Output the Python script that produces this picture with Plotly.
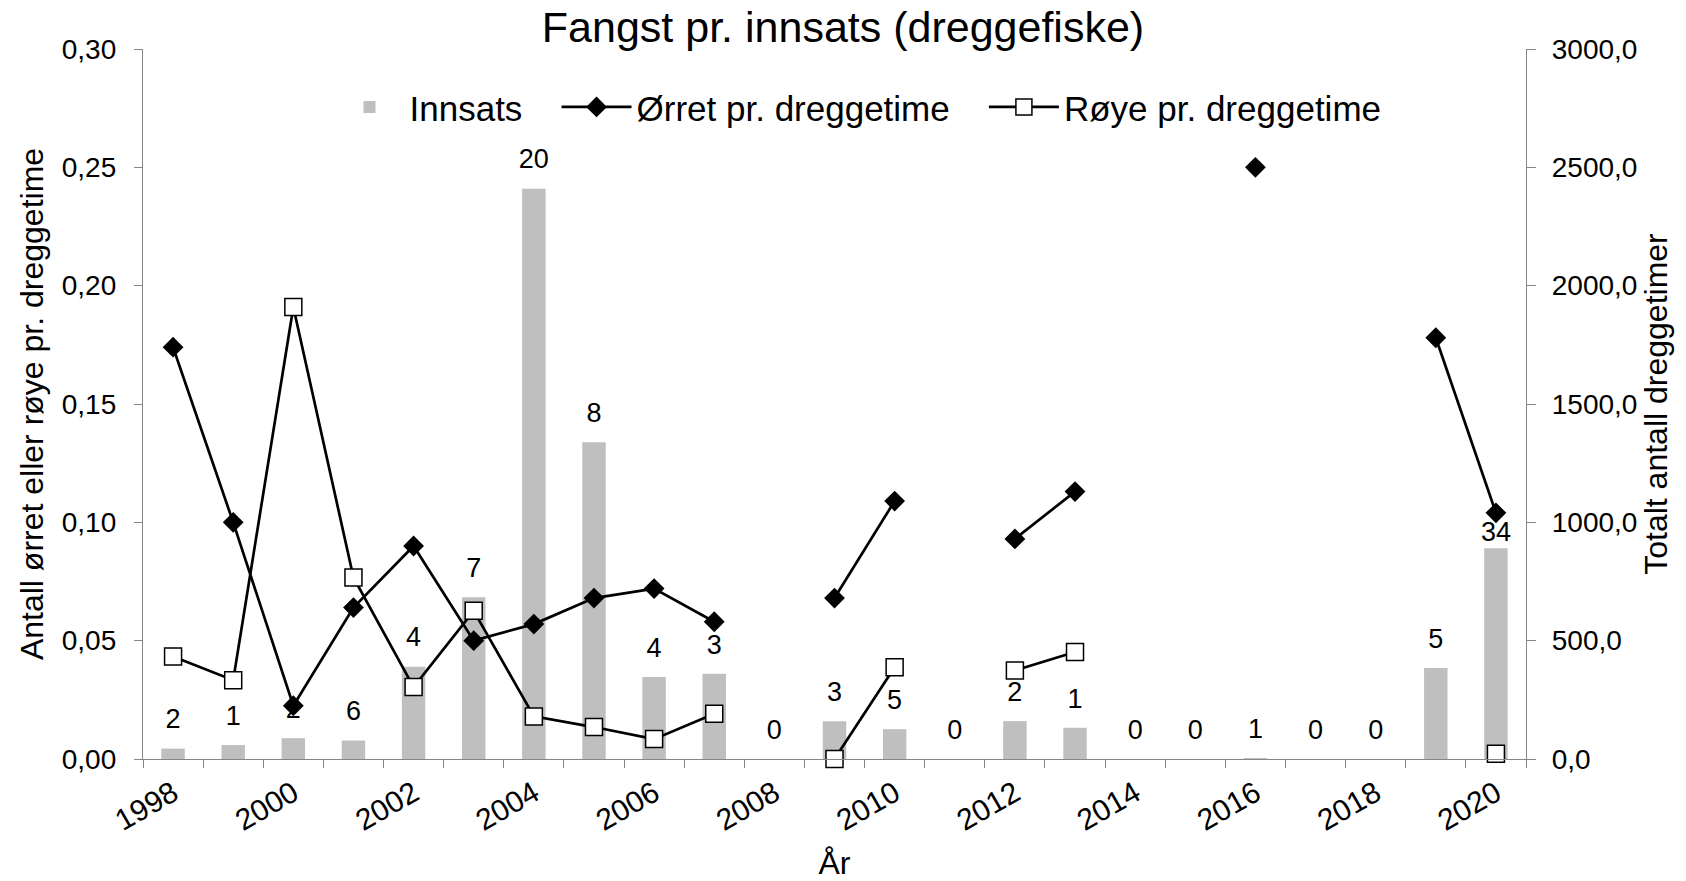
import plotly.graph_objects as go

# ---- data ----
years = ["1998", "1999", "2000", "2001", "2002", "2003", "2004", "2005", "2006", "2007",
         "2008", "2009", "2010", "2011", "2012", "2013", "2014", "2015", "2016", "2017",
         "2018", "2019", "2020"]
x_tick_labels = ["1998", "", "2000", "", "2002", "", "2004", "", "2006", "", "2008", "",
                 "2010", "", "2012", "", "2014", "", "2016", "", "2018", "", "2020"]
innsats = [44, 59, 88, 78, 390, 683, 2410, 1338, 346, 360, 0, 160, 126, 0, 160, 132,
           0, 0, 4, 0, 0, 384, 891]
bar_labels = [2, 1, 2, 6, 4, 7, 20, 8, 4, 3, 0, 3, 5, 0, 2, 1, 0, 0, 1, 0, 0, 5, 34]
orret = [0.174, 0.100, 0.0225, 0.064, 0.090, 0.050, 0.057, 0.068, 0.072, 0.058, None,
         0.068, 0.109, None, 0.093, 0.113, None, None, 0.250, None, None, 0.178, 0.104]
roye = [0.0433, 0.0333, 0.191, 0.0767, 0.0304, 0.0626, 0.018, 0.0135, 0.0084, 0.0191, None,
        0.0, 0.0388, None, 0.0374, 0.0452, None, None, None, None, None, None, 0.0022]

FONT = "Liberation Sans, Arial, sans-serif"
AXIS_COLOR = "#868686"
NB = "\u00a0"

fig = go.Figure()

fig.add_trace(go.Bar(
    x=years, y=innsats, name="Innsats" + NB * 3, yaxis="y",
    marker=dict(color="#bfbfbf", line=dict(width=0)), width=0.39,
))

label_sizes = [0 if y == "2020" else 20 for y in years]
fig.add_trace(go.Scatter(
    x=years, y=innsats, yaxis="y", mode="markers+text",
    text=[str(v) for v in bar_labels], textposition="top center",
    textfont=dict(family=FONT, size=27, color="black"),
    marker=dict(size=label_sizes, color="rgba(0,0,0,0)", opacity=0, line=dict(width=0)),
    showlegend=False, hoverinfo="skip", cliponaxis=False,
))

fig.add_trace(go.Scatter(
    x=years, y=orret, yaxis="y2", mode="lines+markers", name="Ørret pr. dreggetime" + NB * 3,
    line=dict(color="black", width=2.7),
    marker=dict(symbol="diamond", size=16, color="black"),
    connectgaps=False, cliponaxis=False,
))

fig.add_trace(go.Scatter(
    x=years, y=roye, yaxis="y2", mode="lines+markers", name="Røye pr. dreggetime",
    line=dict(color="black", width=2.7),
    marker=dict(symbol="square", size=17, color="white", line=dict(color="black", width=1.5)),
    connectgaps=False, cliponaxis=False,
))

fig.update_layout(
    width=1686, height=881,
    margin=dict(l=143, r=160, t=49, b=122, pad=0),
    paper_bgcolor="white", plot_bgcolor="white",
    font=dict(family=FONT, color="black", size=28),
    separators=",.",
    title=dict(text="Fangst pr. innsats (dreggefiske)", x=0.5, xref="container",
               y=1 - 27 / 881, yref="container", yanchor="middle", xanchor="center",
               font=dict(size=43, family=FONT, color="black")),
    legend=dict(orientation="h", x=0.517, xanchor="center", y=0.918, yanchor="middle",
                font=dict(size=35, family=FONT, color="black"),
                bgcolor="rgba(0,0,0,0)", itemwidth=70),
    xaxis=dict(
        type="category", range=[-0.5, 22.5], tickmode="array", tickvals=years,
        ticktext=x_tick_labels, automargin=False,
        tickson="boundaries", ticks="outside", ticklen=8, tickcolor=AXIS_COLOR, tickwidth=1.3,
        tickangle=-30, tickfont=dict(size=30), showline=True, linecolor=AXIS_COLOR,
        linewidth=1.3, showgrid=False, zeroline=False, ticklabelstandoff=4,
        title=dict(text="År", font=dict(size=32), standoff=28),
    ),
    yaxis=dict(
        side="right", range=[0, 3000], tick0=0, dtick=500, tickformat=".1f", automargin=False,
        ticks="outside", ticklen=9, tickcolor=AXIS_COLOR, tickwidth=1.3,
        showline=True, linecolor=AXIS_COLOR, linewidth=1.3, showgrid=False, zeroline=False,
        tickfont=dict(size=28), ticklabelstandoff=10,
        title=dict(text="Totalt antall dreggetimer", font=dict(size=32), standoff=8),
    ),
    yaxis2=dict(
        overlaying="y", side="left", range=[0, 0.30], tick0=0, dtick=0.05, tickformat=".2f",
        automargin=False,
        ticks="outside", ticklen=8, tickcolor=AXIS_COLOR, tickwidth=1.3,
        showline=True, linecolor=AXIS_COLOR, linewidth=1.3, showgrid=False, zeroline=False,
        tickfont=dict(size=28), ticklabelstandoff=12,
        title=dict(text="Antall ørret eller røye pr. dreggetime", font=dict(size=32), standoff=8),
    ),
)

fig.write_html("out.html", config={"displayModeBar": False},
               post_script="document.body.style.margin='0';")
